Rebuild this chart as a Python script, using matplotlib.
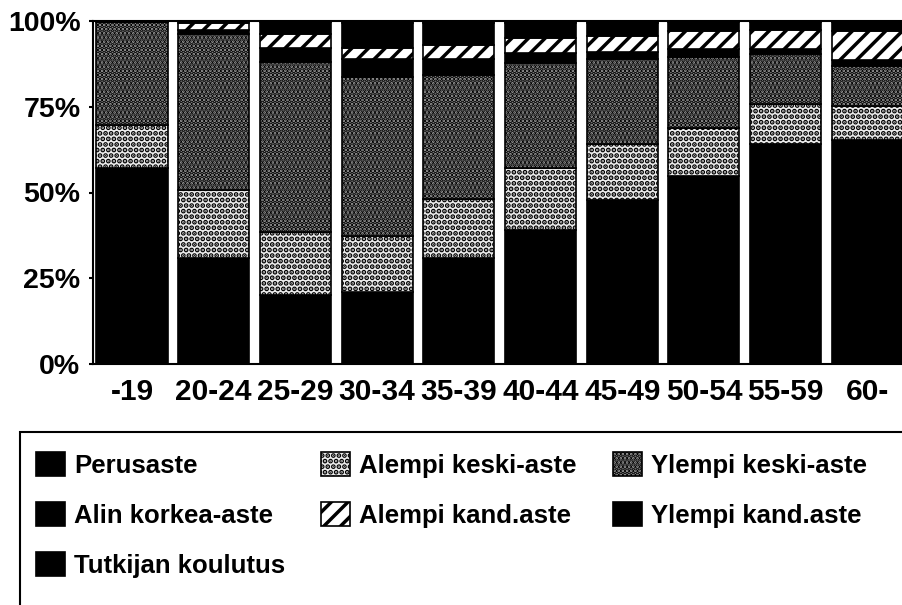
import numpy as np
import matplotlib
matplotlib.use("Agg")
import matplotlib.pyplot as plt
from matplotlib.patches import Patch, Rectangle

plt.rcParams['font.family'] = ['Liberation Sans', 'DejaVu Sans']
plt.rcParams['font.weight'] = 'bold'
plt.rcParams['hatch.linewidth'] = 2.5

# ikäryhmät
age_groups = ["-19", "20-24", "25-29", "30-34", "35-39", "40-44", "45-49", "50-54", "55-59", "60-"]

# koulutusasteet (osuudet %, luettu kuvasta)
perusaste = [57.0, 30.9, 20.2, 21.1, 30.9, 39.1, 47.9, 54.7, 64.0, 65.4]
alempi_keski = [12.8, 19.9, 18.2, 16.1, 17.3, 18.1, 16.1, 14.1, 11.7, 9.8]
ylempi_keski = [29.9, 45.3, 49.7, 46.6, 36.2, 30.6, 24.8, 20.7, 14.6, 11.7]
alin_korkea = [0.2, 1.3, 3.9, 5.0, 4.6, 2.8, 2.3, 2.2, 1.4, 1.7]
alempi_kand = [0.0, 2.1, 4.1, 3.4, 3.9, 4.3, 4.5, 5.4, 5.7, 8.5]
ylempi_kand = [0.1, 0.5, 3.6, 7.2, 6.4, 4.4, 3.8, 2.5, 2.3, 2.6]
tutkija = [0.0, 0.0, 0.3, 0.6, 0.7, 0.7, 0.6, 0.4, 0.3, 0.3]

series = [
    ("Perusaste", perusaste, "black", None),
    ("Alempi keski-aste", alempi_keski, "#ececec", "..."),
    ("Ylempi keski-aste", ylempi_keski, "#9c9c9c", "...."),
    ("Alin korkea-aste", alin_korkea, "black", None),
    ("Alempi kand.aste", alempi_kand, "white", "//"),
    ("Ylempi kand.aste", ylempi_kand, "black", None),
    ("Tutkijan koulutus", tutkija, "black", None),
]

fig = plt.figure(figsize=(9.03, 6.05), dpi=100)
ax = fig.add_axes([93 / 903, 1 - 364 / 605, 1 - 93 / 903, (364 - 21) / 605])

x = np.arange(len(age_groups))
bottom = np.zeros(len(age_groups))
handles = {}
for name, vals, color, hatch in series:
    vals = np.array(vals)
    ax.bar(x, vals, 0.87, bottom=bottom, color=color, hatch=hatch,
           edgecolor="black", linewidth=1.2)
    bottom += vals
    handles[name] = Patch(facecolor=color, hatch=hatch, edgecolor="black", linewidth=1.2)

ax.set_xlim(-0.477, 9.437)
ax.set_ylim(0, 100)
ax.set_yticks([0, 25, 50, 75, 100])
ax.set_yticklabels(["0%", "25%", "50%", "75%", "100%"])
ax.set_xticks(x)
ax.set_xticklabels(age_groups)
ax.tick_params(axis='y', labelsize=20.5, length=3, width=1.5, pad=6)
ax.tick_params(axis='x', labelsize=21.5, length=0, pad=10)
ax.spines['right'].set_visible(False)
for s in ['left', 'bottom', 'top']:
    ax.spines[s].set_linewidth(1.5)

# selite: järjestys sarakkeittain, jotta rivit tulevat kuten alkuperäisessä
order = ["Perusaste", "Alin korkea-aste", "Tutkijan koulutus",
         "Alempi keski-aste", "Alempi kand.aste",
         "Ylempi keski-aste", "Ylempi kand.aste"]
fig.legend([handles[n] for n in order], order, ncol=3, loc='upper left',
           bbox_to_anchor=(36 / 903, 1 - 452 / 605), frameon=False,
           prop={'size': 18.5, 'weight': 'bold'},
           handlelength=1.13, handleheight=1.05, handletextpad=0.35,
           columnspacing=1.4, labelspacing=0.95, borderpad=0, borderaxespad=0)
fig.patches.append(Rectangle((20 / 903, -0.05), 1.0, 1 - 432 / 605 + 0.05,
                             transform=fig.transFigure, fill=False,
                             edgecolor="black", linewidth=1.5))

fig.savefig("out.png", dpi=100)
